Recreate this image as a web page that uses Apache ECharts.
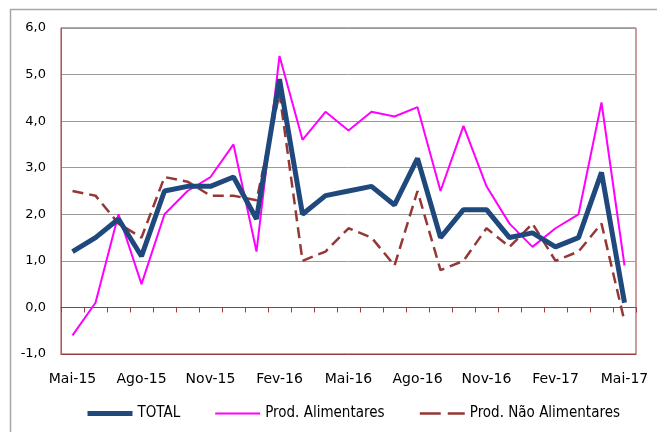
<!DOCTYPE html>
<html><head><meta charset="utf-8">
<script src="https://cdn.jsdelivr.net/npm/echarts@6/dist/echarts.min.js"></script>
<style>html,body{margin:0;padding:0;background:#fff}#c{width:657px;height:432px}</style>
</head><body><div id="c"></div>
<script>
const categories = ["Mai-15","Jun-15","Jul-15","Ago-15","Set-15","Out-15","Nov-15","Dez-15","Jan-16","Fev-16","Mar-16","Abr-16","Mai-16","Jun-16","Jul-16","Ago-16","Set-16","Out-16","Nov-16","Dez-16","Jan-17","Fev-17","Mar-17","Abr-17","Mai-17"];
const total = [1.2,1.5,1.9,1.1,2.5,2.6,2.6,2.8,1.9,4.9,2.0,2.4,2.5,2.6,2.2,3.2,1.5,2.1,2.1,1.5,1.6,1.3,1.5,2.9,0.1];
const alimentares = [-0.6,0.1,2.0,0.5,2.0,2.5,2.8,3.5,1.2,5.4,3.6,4.2,3.8,4.2,4.1,4.3,2.5,3.9,2.6,1.8,1.3,1.7,2.0,4.4,0.9];
const naoAlimentares = [2.5,2.4,1.8,1.5,2.8,2.7,2.4,2.4,2.3,4.6,1.0,1.2,1.7,1.5,0.9,2.5,0.8,1.0,1.7,1.3,1.8,1.0,1.2,1.8,-0.3];
const seriesNames = ["TOTAL","Prod. Alimentares","Prod. Não Alimentares"];

const chart = echarts.init(document.getElementById('c'));
const axisFont = '"DejaVu Sans", Verdana, sans-serif';
const legendFont = '"Liberation Sans Narrow", "DejaVu Sans Condensed", sans-serif';
const red = '#9B3B3B';
const cNavy = '#1F497D', cMag = '#FF00FF', cBrown = '#953735';
chart.setOption({
  animation:false,
  graphic:[{type:'rect',shape:{x:10.5,y:9.5,width:700,height:500},style:{fill:null,stroke:'#a6a6a6',lineWidth:1.5},silent:true}],
  grid:{left:61,right:21,top:28,bottom:78,show:true,borderColor:red,borderWidth:1,backgroundColor:'transparent'},
  legend:{top:401,left:80,width:600,itemGap:34,itemWidth:45,itemHeight:14,
    textStyle:{fontFamily:legendFont,fontSize:15,color:'#000'},
    itemStyle:{opacity:0},
    data:[
      {name:seriesNames[0],lineStyle:{width:5,color:cNavy},itemStyle:{opacity:0}},
      {name:seriesNames[1],lineStyle:{width:2,color:cMag},itemStyle:{opacity:0}},
      {name:seriesNames[2],lineStyle:{width:2.5,color:cBrown,type:[21,7]},itemStyle:{opacity:0}}
    ]},
  xAxis:[
    {type:'category',data:categories,boundaryGap:true,position:'bottom',
     axisLine:{onZero:false,show:true,lineStyle:{color:red}},axisTick:{show:false},
     axisLabel:{interval:2,color:'#000',fontSize:14,fontFamily:axisFont,margin:18}},
    {type:'category',data:categories,boundaryGap:true,position:'bottom',
     axisLine:{onZero:true,show:true,lineStyle:{color:red,width:1}},
     axisTick:{show:true,interval:0,length:5,lineStyle:{color:red}},
     axisLabel:{show:false}}
  ],
  yAxis:{type:'value',min:-1,max:6,interval:1,
    axisLine:{show:true,lineStyle:{color:'#8c6a6a'}},axisTick:{show:false},
    splitLine:{lineStyle:{color:'#9a9a9a',width:1}},
    axisLabel:{color:'#000',fontSize:13,fontFamily:axisFont,margin:15,formatter:v=>v.toFixed(1).replace('.',',')}},
  series:[
    {name:seriesNames[0],type:'line',data:total,symbol:'none',z:5,
     lineStyle:{color:cNavy,width:5},itemStyle:{color:cNavy}},
    {name:seriesNames[1],type:'line',data:alimentares,symbol:'none',z:4,
     lineStyle:{color:cMag,width:2},itemStyle:{color:cMag}},
    {name:seriesNames[2],type:'line',data:naoAlimentares,symbol:'none',z:3,
     lineStyle:{color:cBrown,width:2.5,type:[11,6]},itemStyle:{color:cBrown}}
  ]
});
</script></body></html>
